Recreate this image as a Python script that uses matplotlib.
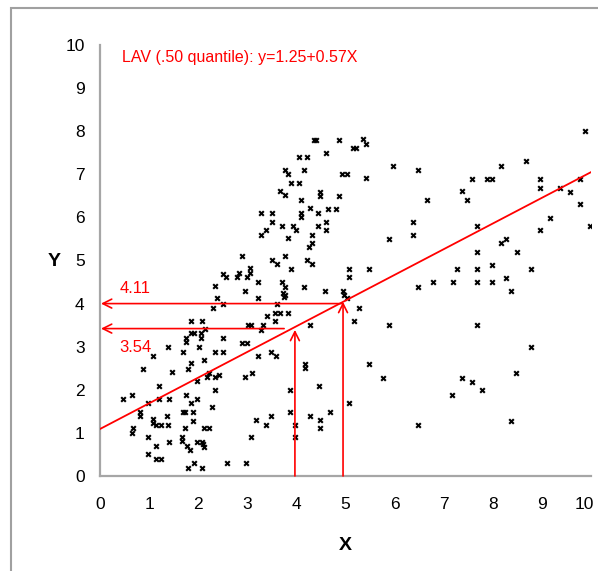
import matplotlib
matplotlib.use('Agg')
import matplotlib.pyplot as plt
from matplotlib.patches import Rectangle
from matplotlib.transforms import ScaledTranslation

plt.rcParams['font.family'] = ['Liberation Sans', 'DejaVu Sans']

# scatter values
x_vals = [2.51, 2.57, 2.34, 2.38, 2.51, 2.30, 1.85, 2.08, 2.14, 1.85, 1.91, 2.06, 1.75, 2.06, 1.75, 2.51,
          1.38, 2.02, 1.69, 2.34, 2.51, 1.08, 2.12, 1.85, 1.79, 0.88, 1.47, 2.22, 2.18, 2.34, 2.42, 1.98,
          1.20, 2.34, 0.65, 0.47, 1.20, 1.41, 1.75, 1.98, 1.85, 0.98, 2.28, 1.69, 1.73, 1.89, 0.81, 0.81,
          1.36, 1.08, 1.08, 1.89, 1.14, 1.24, 1.38, 0.67, 0.65, 1.73, 2.12, 2.22, 0.98, 1.67, 1.67, 1.14,
          1.41, 1.77, 1.83, 1.98, 2.08, 2.10, 2.12, 0.98, 1.14, 1.24, 1.79, 1.91, 2.08, 2.59,
          4.36, 4.40, 4.87, 4.05, 4.22, 4.60, 3.77, 3.83, 4.15, 4.93, 5.03, 3.89, 4.05, 3.67, 3.77, 4.48,
          4.48, 4.87, 4.09, 4.28, 4.64, 4.81, 3.28, 3.50, 4.09, 4.09, 4.44, 3.50, 3.71, 3.93, 3.99, 4.44,
          4.60, 4.60, 3.28, 3.38, 4.32, 3.83, 4.32, 4.26, 2.89, 3.50, 3.60, 3.77, 3.89, 4.22, 4.32, 5.07,
          5.07, 2.79, 2.83, 2.99, 3.05, 3.05, 3.22, 2.95, 3.71, 3.77, 4.15, 4.58, 3.73, 3.77, 3.75, 3.22,
          4.95, 4.97, 5.03,
          3.60, 3.40, 3.56, 3.67, 3.83, 3.56, 3.01, 3.08, 3.32, 3.28, 4.28, 2.89, 2.99, 3.22, 3.48, 3.58,
          2.95, 3.10, 4.18, 4.18, 3.87, 4.46, 5.07, 3.87, 3.18, 3.38, 3.48, 3.97, 3.97, 3.08, 4.28, 4.48,
          4.48, 4.68, 2.97,
          5.15, 5.21, 5.36, 5.42, 5.42, 5.97, 6.48, 7.37, 7.47, 6.66, 6.37, 6.37, 5.89, 5.48, 6.48, 6.78,
          7.19, 7.27,
          5.27, 5.17, 5.89, 5.48, 5.76, 6.48, 7.17, 7.37,
          9.88, 8.17, 8.68, 7.58, 7.88, 7.98, 8.96, 8.96, 9.78, 9.37, 9.57, 9.78, 9.16, 7.68, 8.96, 9.98,
          8.17, 8.27, 7.68, 8.49, 7.68, 7.98, 8.78, 7.68, 7.98, 8.27, 8.37,
          7.68, 8.78, 7.58, 7.78, 8.47, 8.37]
y_vals = [4.69, 4.62, 4.41, 4.13, 3.99, 3.90, 3.60, 3.60, 3.41, 3.32, 3.32, 3.32, 3.20, 3.20, 3.11, 3.20,
          2.99, 2.99, 2.88, 2.88, 2.88, 2.78, 2.69, 2.62, 2.48, 2.48, 2.41, 2.39, 2.30, 2.30, 2.34, 2.20,
          2.09, 2.00, 1.88, 1.79, 1.79, 1.79, 1.88, 1.79, 1.69, 1.69, 1.60, 1.48, 1.48, 1.48, 1.48, 1.39,
          1.39, 1.32, 1.23, 1.28, 1.18, 1.18, 1.18, 1.11, 1.00, 1.11, 1.11, 1.11, 0.90, 0.90, 0.81, 0.70,
          0.79, 0.70, 0.60, 0.79, 0.79, 0.74, 0.67, 0.51, 0.39, 0.39, 0.19, 0.30, 0.19, 0.30,
          7.80, 7.80, 7.80, 7.40, 7.40, 7.49, 7.10, 7.01, 7.10, 7.01, 7.01, 6.80, 6.80, 6.61, 6.52, 6.59,
          6.50, 6.50, 6.40, 6.22, 6.19, 6.19, 6.10, 6.10, 6.10, 6.01, 6.10, 5.89, 5.80, 5.80, 5.71, 5.80,
          5.89, 5.71, 5.59, 5.71, 5.59, 5.52, 5.41, 5.31, 5.10, 5.01, 4.92, 5.10, 4.80, 5.01, 4.92, 4.80,
          4.62, 4.62, 4.71, 4.62, 4.83, 4.71, 4.50, 4.29, 4.50, 4.39, 4.39, 4.29, 4.25, 4.20, 4.15, 4.13,
          4.29, 4.20, 4.13,
          3.99, 3.71, 3.78, 3.78, 3.78, 3.60, 3.50, 3.50, 3.50, 3.39, 3.50, 3.09, 3.09, 2.78, 2.88, 2.78,
          2.30, 2.39, 2.60, 2.51, 2.00, 2.09, 1.69, 1.48, 1.30, 1.18, 1.39, 1.18, 0.90, 0.90, 1.39, 1.30,
          1.11, 1.48, 0.30,
          7.61, 7.61, 7.82, 7.70, 6.91, 7.19, 7.10, 6.61, 6.40, 6.40, 5.89, 5.59, 5.50, 4.80, 4.39, 4.50,
          4.50, 4.80,
          3.90, 3.60, 3.50, 2.60, 2.27, 1.18, 1.88, 2.27,
          8.00, 7.19, 7.31, 6.89, 6.89, 6.89, 6.89, 6.68, 6.89, 6.68, 6.59, 6.31, 5.99, 5.80, 5.71, 5.80,
          5.41, 5.50, 5.20, 5.20, 4.80, 4.90, 4.80, 4.50, 4.50, 4.59, 4.29,
          3.50, 2.99, 2.18, 2.00, 2.39, 1.28]

# fitted line as drawn in the picture
line_x = [0, 10]
line_y = [1.09, 7.05]

# reading arrows: (x on line, y on line), and labels
arrow_x = [3.97, 4.95]
arrow_top = [3.39, 4.04]
level_y = [3.42, 4.0]
level_start = [3.75, 4.93]
level_labels = ['3.54', '4.11']
label_y = [2.99, 4.36]

title = 'LAV (.50 quantile): y=1.25+0.57X'

fig = plt.figure(figsize=(5.98, 5.71), dpi=100)
ax = fig.add_axes([0.1672, 0.1664, 0.8211, 0.7548])

# grey outer frame
fig.patches.append(Rectangle((11 / 598, -0.05), 1.1, 1.036, transform=fig.transFigure,
                             fill=False, edgecolor='#a0a0a0', linewidth=1.5))

ax.scatter(x_vals, y_vals, marker='x', s=11, linewidths=1.5, color='black', zorder=3)
ax.plot(line_x, line_y, color='red', linewidth=1.3, zorder=4)

arrow_style = dict(arrowstyle='->', color='red', lw=1.2, mutation_scale=16, shrinkA=0, shrinkB=0)
for xa, ta in zip(arrow_x, arrow_top):
    ax.annotate('', xy=(xa, ta), xytext=(xa, 0), arrowprops=arrow_style, annotation_clip=False)
for ly, ls in zip(level_y, level_start):
    ax.annotate('', xy=(0.02, ly), xytext=(ls, ly), arrowprops=arrow_style, annotation_clip=False)
for txt, ty in zip(level_labels, label_y):
    ax.text(0.39, ty, txt, color='red', fontsize=12, va='center', ha='left')

ax.text(0.45, 9.7, title, color='red', fontsize=11.5, va='center', ha='left')

ax.set_xlim(0, 10)
ax.set_ylim(0, 10)
ax.set_xticks(range(0, 11))
ax.set_yticks(range(0, 11))
ax.tick_params(axis='both', length=0, labelsize=12.5)
ax.tick_params(axis='x', pad=15)
ax.tick_params(axis='y', pad=11)
for side in ['top', 'right']:
    ax.spines[side].set_visible(False)
for side in ['left', 'bottom']:
    ax.spines[side].set_color('#a6a6a6')
    ax.spines[side].set_linewidth(1.6)

ax.set_xlabel('X', fontsize=14, fontweight='bold')
ax.set_ylabel('Y', fontsize=14, fontweight='bold', rotation=0)
ax.xaxis.set_label_coords(0.499, -0.162)
ax.yaxis.set_label_coords(-0.094, 0.497)
ax.yaxis.label.set_va('center')
ax.xaxis.label.set_va('center')

# last x label sits at the very edge, nudge it in a little
fig.canvas.draw()
last = ax.get_xticklabels()[-1]
last.set_transform(last.get_transform() + ScaledTranslation(-5 / 72, 0, fig.dpi_scale_trans))

fig.savefig('out.png', dpi=100)
